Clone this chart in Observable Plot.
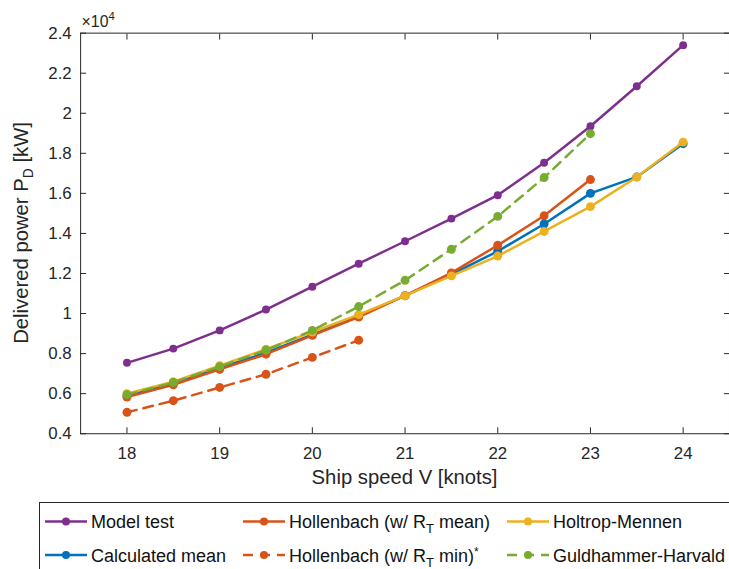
<!DOCTYPE html>
<html>
<head>
<meta charset="utf-8">
<script src="https://cdn.jsdelivr.net/npm/d3@7"></script>
<script src="https://cdn.jsdelivr.net/npm/@observablehq/plot@0.6"></script>
<style>
  html, body { margin: 0; padding: 0; background: #fff; overflow: hidden; }
  #wrap { position: relative; width: 729px; height: 569px; overflow: hidden;
          font-family: "Liberation Sans", Arial, Helvetica, sans-serif; }
  #chart { position: absolute; left: 0; top: 0; }
  #legend { position: absolute; left: 0; top: 495px; }
</style>
</head>
<body>
<div id="wrap">
  <div id="chart"></div>
  <svg id="legend" width="729" height="74"></svg>
</div>
<script>
// Ship speed V [knots]
const speed = [18, 18.5, 19, 19.5, 20, 20.5, 21, 21.5, 22, 22.5, 23, 23.5, 24];

// Delivered power P_D [kW] per method
const modelTest         = [7540, 8250, 9160, 10200, 11340, 12490, 13610, 14740, 15910, 17530, 19350, 21350, 23400];
const calculatedMean    = [5890, 6520, 7280, 8050, 8950, 9900, 10890, 11960, 13110, 14470, 16000, 16820, 18480];
const hollenbachMean    = [5830, 6440, 7210, 7970, 8910, 9820, 10890, 12030, 13410, 14880, 16690];
const hollenbachMin     = [5070, 5650, 6310, 6970, 7810, 8670];
const holtropMennen     = [6000, 6600, 7400, 8220, 9080, 9950, 10890, 11880, 12870, 14100, 15340, 16820, 18560];
const guldhammerHarvald = [5950, 6560, 7350, 8170, 9160, 10350, 11660, 13210, 14850, 16790, 18980];

// Axis ticks
const xTicks = [18, 19, 20, 21, 22, 23, 24];
const yTicks = [0.4, 0.6, 0.8, 1, 1.2, 1.4, 1.6, 1.8, 2, 2.2, 2.4];

const FONT = '"Liberation Sans", Arial, Helvetica, sans-serif';
const AXIS = "#262626";

const series = [
  {name: "Model test",           values: modelTest,         color: "#7E2F8E", dash: null,   r: 4},
  {name: "Calculated mean",      values: calculatedMean,    color: "#0072BD", dash: null,   r: 4.5},
  {name: "Hollenbach mean",      values: hollenbachMean,    color: "#D95319", dash: null,   r: 4.5},
  {name: "Hollenbach min",       values: hollenbachMin,     color: "#D95319", dash: "10,7", r: 4.5},
  {name: "Holtrop-Mennen",       values: holtropMennen,     color: "#EDB120", dash: null,   r: 4.5},
  {name: "Guldhammer-Harvald",   values: guldhammerHarvald, color: "#77AC30", dash: "10,7", r: 4.5}
];

const rows = series.flatMap(s => s.values.map((p, i) => ({series: s.name, v: speed[i], p})));

const seriesMarks = series.flatMap(s => {
  const data = rows.filter(d => d.series === s.name);
  return [
    Plot.line(data, {x: "v", y: d => d.p / 1e4, stroke: s.color, strokeWidth: 2.5,
                     strokeDasharray: s.dash, strokeLinejoin: "round"}),
    Plot.dot(data, {x: "v", y: d => d.p / 1e4, r: s.r, fill: s.color, stroke: "none"})
  ];
});

const W = 737, H = 500;
const chart = Plot.plot({
  width: W,
  height: H,
  marginLeft: 81,
  marginRight: 0,
  marginTop: 33,
  marginBottom: 62,
  x: {domain: [17.5, 24.5]},
  y: {domain: [0.4, 2.4]},
  style: {fontFamily: FONT, fontSize: "17px", color: AXIS, background: "white", overflow: "visible"},
  marks: [
    // tick labels
    Plot.axisX(xTicks, {anchor: "bottom", tickSize: 0, tickPadding: 13, label: null}),
    Plot.axisY(yTicks, {anchor: "left", tickSize: 0, tickPadding: 9, label: null, tickFormat: d3.format("~g")}),
    // inward tick marks on all four sides
    Plot.axisX(xTicks, {anchor: "bottom", tickSize: -6, tickFormat: () => "", label: null}),
    Plot.axisX(xTicks, {anchor: "top", tickSize: -6, tickFormat: () => "", label: null}),
    Plot.axisY(yTicks, {anchor: "left", tickSize: -6, tickFormat: () => "", label: null}),
    Plot.axisY(yTicks, {anchor: "right", tickSize: -6, tickFormat: () => "", label: null}),
    ...seriesMarks,
    Plot.frame({stroke: AXIS, strokeWidth: 1})
  ]
});
document.getElementById("chart").appendChild(chart);

// Axis titles and exponent note
const svg = d3.select(chart);
const xs = chart.scale("x"), ys = chart.scale("y");
const xMid = (xs.range[0] + xs.range[1]) / 2;
const yMid = (ys.range[0] + ys.range[1]) / 2;

svg.append("text")
  .attr("x", xMid).attr("y", 489)
  .attr("text-anchor", "middle")
  .attr("font-family", FONT).attr("font-size", 20.5).attr("fill", AXIS)
  .text("Ship speed V [knots]");

const yl = svg.append("text")
  .attr("transform", `translate(28.5,${yMid}) rotate(-90)`)
  .attr("text-anchor", "middle")
  .attr("font-family", FONT).attr("font-size", 20.5).attr("fill", AXIS);
yl.append("tspan").text("Delivered power P");
yl.append("tspan").attr("font-size", 14).attr("dy", 5).text("D");
yl.append("tspan").attr("dy", -5).text(" [kW]");

const ex = svg.append("text")
  .attr("x", xs.range[0] + 1.5).attr("y", 27.5)
  .attr("text-anchor", "start")
  .attr("font-family", FONT).attr("font-size", 16).attr("fill", AXIS);
ex.append("tspan").text("\u00d710");
ex.append("tspan").attr("font-size", 11.5).attr("dy", -7).text("4");

// Legend (two rows, three columns)
const lg = d3.select("#legend");
lg.append("rect")
  .attr("x", 39.5).attr("y", 7.5).attr("width", 760).attr("height", 120)
  .attr("fill", "white").attr("stroke", AXIS).attr("stroke-width", 1);

const cols = [45, 243, 507];
const rowsY = [26.5, 60];
const entries = [
  {s: series[0], col: 0, row: 0},
  {s: series[1], col: 0, row: 1},
  {s: series[2], col: 1, row: 0},
  {s: series[3], col: 1, row: 1},
  {s: series[4], col: 2, row: 0},
  {s: series[5], col: 2, row: 1}
];
entries.forEach(e => {
  const x0 = cols[e.col], y = rowsY[e.row], len = 42;
  lg.append("line")
    .attr("x1", x0).attr("x2", x0 + len).attr("y1", y).attr("y2", y)
    .attr("stroke", e.s.color).attr("stroke-width", 2.5)
    .attr("stroke-dasharray", e.s.dash);
  lg.append("circle").attr("cx", x0 + len / 2).attr("cy", y).attr("r", 4).attr("fill", e.s.color);
  const t = lg.append("text")
    .attr("x", x0 + len + 4).attr("y", y + 6.5)
    .attr("font-family", FONT).attr("font-size", 18).attr("fill", "#111");
  if (e.s.name === "Hollenbach mean" || e.s.name === "Hollenbach min") {
    t.append("tspan").text("Hollenbach (w/ R");
    t.append("tspan").attr("font-size", 13).attr("dy", 5).text("T");
    if (e.s.name === "Hollenbach mean") {
      t.append("tspan").attr("dy", -5).text(" mean)");
    } else {
      t.append("tspan").attr("dy", -5).text(" min)");
      t.append("tspan").attr("font-size", 12).attr("dy", -6).text("*");
    }
  } else {
    t.text(e.s.name);
  }
});
</script>
</body>
</html>
